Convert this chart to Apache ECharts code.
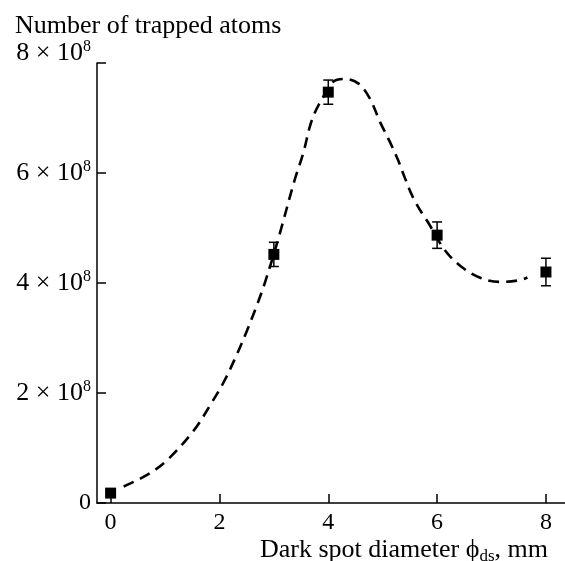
<!DOCTYPE html>
<html>
<head>
<meta charset="utf-8">
<script src="https://cdn.jsdelivr.net/npm/echarts@6/dist/echarts.min.js"></script>
<style>html,body{margin:0;padding:0;background:#fff;}#c{width:565px;height:561px;}</style>
</head>
<body>
<div id="c"></div>
<script>
// Values in units of 10^8 atoms
const diameters = [0, 3, 4, 6, 8];
const atoms = [0.18, 4.52, 7.47, 4.87, 4.20];
const errors = [0, 0.22, 0.22, 0.24, 0.25];
const curveX = [0.24, 0.67, 1.04, 1.53, 1.83, 2.08, 2.32, 2.50, 2.69, 2.84, 3.08, 3.39, 3.54, 3.66, 3.75, 3.91, 4.09, 4.30, 4.55, 4.76, 4.95, 5.13, 5.28, 5.40, 5.55, 5.74, 5.83, 6.14, 6.44, 6.78, 7.14, 7.51, 7.66];
const curveY = [0.30, 0.51, 0.78, 1.32, 1.78, 2.20, 2.70, 3.12, 3.60, 4.02, 4.80, 5.90, 6.36, 6.84, 7.09, 7.39, 7.66, 7.71, 7.63, 7.36, 6.93, 6.57, 6.24, 5.93, 5.57, 5.24, 5.11, 4.60, 4.30, 4.10, 4.02, 4.05, 4.10];
const xTicks = [0, 2, 4, 6, 8];
const yTicks = [0, 2, 4, 6, 8];
const yTitle = 'Number of trapped atoms';
const xTitle = '{m|Dark spot diameter \u03d5}{s|ds}{m|, mm}';

const FONT = '"Liberation Serif", "DejaVu Serif", serif';
const chart = echarts.init(document.getElementById('c'));

const curveData = curveX.map((x, i) => [x, curveY[i]]);
const pointData = diameters.map((x, i) => [x, atoms[i]]);
const errData = diameters.map((x, i) => [x, atoms[i] - errors[i], atoms[i] + errors[i]]).filter((d, i) => errors[i] > 0);

chart.setOption({
  animation: false,
  title: [{
    text: yTitle,
    left: 10, top: 8,
    textStyle: { fontFamily: FONT, fontSize: 26, fontWeight: 'normal', color: '#000' }
  }, {
    text: xTitle,
    right: 12, top: 531,
    textStyle: {
      fontFamily: FONT, fontSize: 26, fontWeight: 'normal', color: '#000',
      rich: {
        m: { fontFamily: FONT, fontSize: 26, color: '#000' },
        s: { fontFamily: FONT, fontSize: 17, color: '#000', padding: [12, 0, 0, 0] }
      }
    }
  }],
  grid: { left: 97, right: 0, top: 63, bottom: 58, containLabel: false, outerBoundsMode: 'none' },
  xAxis: {
    type: 'value', min: -0.25, max: 8.35,
    splitLine: { show: false },
    axisLine: { show: true, onZero: false, lineStyle: { color: '#000', width: 1.5 } },
    axisTick: { show: true, inside: true, length: 9, lineStyle: { color: '#000', width: 1.5 },
      customValues: xTicks },
    axisLabel: { fontFamily: FONT, fontSize: 24, color: '#000', margin: 8,
      customValues: xTicks, showMinLabel: true, showMaxLabel: true }
  },
  yAxis: {
    type: 'value', min: 0, max: 8,
    splitLine: { show: false },
    axisLine: { show: true, onZero: false, lineStyle: { color: '#000', width: 1.5 } },
    axisTick: { show: true, inside: true, length: 9, lineStyle: { color: '#000', width: 1.5 },
      customValues: yTicks },
    axisLabel: {
      customValues: yTicks, margin: 6,
      formatter: function (v) {
        if (v === 0) return '{z|0}';
        if (v === 8) return '{t|' + v + ' \u00d7 10}{ts|8}';
        return '{m|' + v + ' \u00d7 10}{s|8}';
      },
      rich: {
        z: { fontFamily: FONT, fontSize: 24, color: '#000' },
        m: { fontFamily: FONT, fontSize: 26, color: '#000' },
        s: { fontFamily: FONT, fontSize: 16, color: '#000', padding: [0, 0, 12, 0] },
        t: { fontFamily: FONT, fontSize: 26, color: '#000', padding: [0, 0, 20, 0] },
        ts: { fontFamily: FONT, fontSize: 16, color: '#000', padding: [0, 0, 32, 0] }
      }
    }
  },
  series: [
    {
      type: 'line', data: curveData, smooth: 0.35, showSymbol: false, symbol: 'none',
      lineStyle: { color: '#000', width: 2.6, type: [11, 7] }, z: 1
    },
    {
      type: 'custom', data: errData, z: 2,
      renderItem: function (params, api) {
        const x = api.value(0);
        const lo = api.coord([x, api.value(1)]);
        const hi = api.coord([x, api.value(2)]);
        const w = 5;
        const st = { stroke: '#000', lineWidth: 1.5 };
        return { type: 'group', children: [
          { type: 'line', shape: { x1: lo[0], y1: lo[1], x2: hi[0], y2: hi[1] }, style: st },
          { type: 'line', shape: { x1: lo[0] - w, y1: lo[1], x2: lo[0] + w, y2: lo[1] }, style: st },
          { type: 'line', shape: { x1: hi[0] - w, y1: hi[1], x2: hi[0] + w, y2: hi[1] }, style: st }
        ]};
      }
    },
    {
      type: 'scatter', data: pointData, symbol: 'rect', symbolSize: 11,
      itemStyle: { color: '#000', opacity: 1 }, z: 3
    }
  ]
});
</script>
</body>
</html>
